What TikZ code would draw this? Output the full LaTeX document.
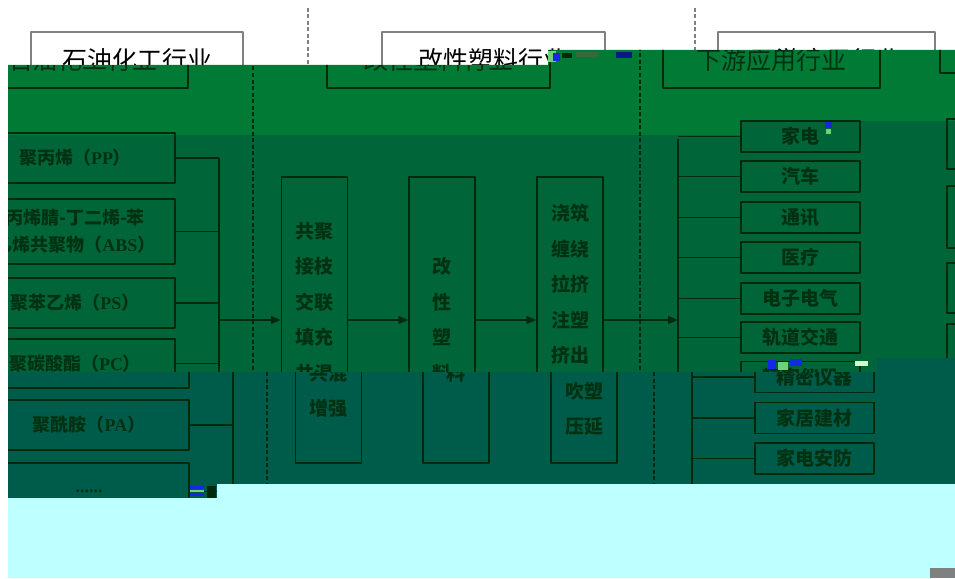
\documentclass[tikz,border=0pt]{standalone}
\usepackage{fontspec}
\newfontfamily\cjk{Noto Sans CJK SC}
\newfontfamily\latf{Liberation Serif}
\usetikzlibrary{arrows.meta}
\definecolor{bandgreen}{RGB}{0,122,53}
\definecolor{banddark}{RGB}{0,102,58}
\definecolor{bandteal}{RGB}{0,92,74}
\definecolor{bandcyan}{RGB}{190,255,255}
\definecolor{inkdark}{RGB}{0,42,12}
\definecolor{textdark}{RGB}{0,50,18}
\definecolor{noiseblue}{RGB}{20,40,230}
\definecolor{noisegreen}{RGB}{110,210,120}
\colorlet{ln}{gray}
\colorlet{tx}{black}
\newcommand{\lat}[1]{{\latf\bfseries #1}}

\tikzset{
  plainbox/.style={draw=ln, line width=1.5pt, inner sep=0pt, text=tx, align=center,
    font=\cjk\bfseries\fontsize{19}{35.5}\selectfont},
  titlebox/.style={plainbox, line width=1.2pt, minimum height=56pt, font=\cjk\fontsize{25}{30}\selectfont},
  srcbox/.style={plainbox, minimum width=200pt, font=\cjk\bfseries\fontsize{18}{27}\selectfont},
  procbox/.style={plainbox, minimum width=66pt, minimum height=286pt},
  appbox/.style={plainbox, minimum width=119pt, minimum height=31pt},
  link/.style={draw=ln, line width=1.5pt},
  flow/.style={link, -{Triangle[length=10pt,width=8pt]}},
  sepline/.style={draw=ln, line width=1.3pt, dash pattern=on 4pt off 2.5pt},
}

\newcommand{\chaindiagram}{%
  \node[titlebox, minimum width=212pt] (tpetro) at (137,60) {石油化工行业};
  \node[titlebox, minimum width=223pt] (tmod) at (493.5,60) {改性塑料行业};
  \node[titlebox, minimum width=217pt] (tdown) at (826.5,60) {下游应用行业};
  \node[titlebox, minimum width=200pt, minimum height=53pt] (tnext) at (1095,46.5) {};
  \draw[sepline] (308,8) -- (308,520);
  \draw[sepline] (695,8) -- (695,520);
  % raw materials
  \node[srcbox, minimum height=50pt] (pp) at (130,158) {聚丙烯（\lat{PP}）};
  \node[srcbox, minimum height=65pt] (abs) at (130,231.5) {丙烯腈-丁二烯-苯\\乙烯共聚物（\lat{ABS}）};
  \node[srcbox, minimum height=50pt] (ps) at (130,303) {聚苯乙烯（\lat{PS}）};
  \node[srcbox, minimum height=49pt] (pc) at (130,363.5) {聚碳酸酯（\lat{PC}）};
  \node[srcbox, minimum height=50pt] (pa) at (130,425) {聚酰胺（\lat{PA}）};
  \node[srcbox, minimum height=57pt] (more) at (130,491.5) {\lat{......}};
  \coordinate (lbus) at (274,158);
  \foreach \s in {pp,abs,ps,pc,pa,more}{\draw[link] (\s.east) -- (\s.east -| lbus);}
  \draw[link] (pp.east -| lbus) -- (more.east -| lbus);
  % processing
  \node[procbox] (copro) at (369.5,320) {共聚\\接枝\\交联\\填充\\共混\\增强};
  \node[procbox] (modp) at (497,320) {改\\性\\塑\\料};
  \node[procbox] (form) at (625,320) {浇筑\\缠绕\\拉挤\\注塑\\挤出\\吹塑\\压延};
  \draw[flow] (lbus |- copro.west) -- (copro.west);
  \draw[flow] (copro.east) -- (modp.west);
  \draw[flow] (modp.east) -- (form.west);
  % applications
  \coordinate (rbus) at (733,139);
  \coordinate (rbusend) at (733,500);
  \draw[link] (rbus) -- (rbusend);
  \draw[flow] (form.east) -- (form.east -| rbus);
  \foreach \n/\t/\y in {1/家电/136.5,2/汽车/176.5,3/通讯/217.5,4/医疗/257.5,5/电子电气/298.5,
      6/轨道交通/337.5,7/精密仪器/377,8/家居建材/418,9/家电安防/458.5}{
    \node[appbox] (app\n) at (855.5,\y) {\t};
    \draw[link] (app\n.west) -- (app\n.west -| rbus);
  }
  \foreach \k/\y/\h in {1/144/50,2/217/62,3/288/50,4/352/56}{
    \node[plainbox, minimum width=200pt, minimum height=\h pt] (side\k) at (1102,\y) {};
  }
}

\begin{document}
\begin{tikzpicture}[x=1pt, y=-1pt, line join=round]
\useasboundingbox (0,0) rectangle (955,578);
\clip (0,0) rectangle (955,578);
\chaindiagram
\colorlet{ln}{inkdark}\colorlet{tx}{textdark}
\begin{scope}
  \fill[bandgreen] (8,65) -- (548,65) -- (548,50) -- (955,50) -- (955,121) -- (740,121) -- (740,135) -- (8,135) -- cycle;
  \clip (8,65) -- (548,65) -- (548,50) -- (955,50) -- (955,121) -- (740,121) -- (740,135) -- (8,135) -- cycle;
  \begin{scope}[xshift=-55pt] \chaindiagram \end{scope}
\end{scope}
\begin{scope}
  \fill[banddark] (8,135) -- (740,135) -- (740,121) -- (955,121) -- (955,358) -- (877,358) -- (877,372) -- (8,372) -- cycle;
  \clip (8,135) -- (740,135) -- (740,121) -- (955,121) -- (955,358) -- (877,358) -- (877,372) -- (8,372) -- cycle;
  \begin{scope}[xshift=-55pt] \chaindiagram \end{scope}
\end{scope}
\begin{scope}
  \fill[bandteal] (8,372) -- (877,372) -- (877,358) -- (955,358) -- (955,484) -- (217,484) -- (217,498) -- (8,498) -- cycle;
  \clip (8,372) -- (877,372) -- (877,358) -- (955,358) -- (955,484) -- (217,484) -- (217,498) -- (8,498) -- cycle;
  \begin{scope}[xshift=-41pt] \chaindiagram \end{scope}
\end{scope}
\fill[bandcyan] (217,484) -- (955,484) -- (955,578) -- (8,578) -- (8,498) -- (217,498) -- cycle;
\fill[gray] (930,568) rectangle (955,578);
% noise
\fill[noisegreen] (548,51) rectangle (556,62);
\fill[noiseblue] (553,53) rectangle (560,61);
\fill[inkdark] (562,53) rectangle (572,58);
\fill[noisegreen!50!black] (576,52) rectangle (598,57);
\fill[noiseblue!60!black] (616,52) rectangle (632,58);
\fill[noiseblue] (825,122) rectangle (832,128);
\fill[noisegreen] (826,129) rectangle (831,134);
\fill[noiseblue] (768,360) rectangle (776,369);
\fill[noiseblue] (790,359) rectangle (802,366);
\fill[noisegreen] (778,362) rectangle (788,370);
\fill[white!80!green] (855,361) rectangle (868,366);
\fill[noiseblue] (190,486) rectangle (204,489);
\fill[noisegreen] (190,490) rectangle (204,492);
\fill[noiseblue] (190,493) rectangle (204,496);
\fill[inkdark] (207,486) rectangle (216,498);
\end{tikzpicture}
\end{document}
